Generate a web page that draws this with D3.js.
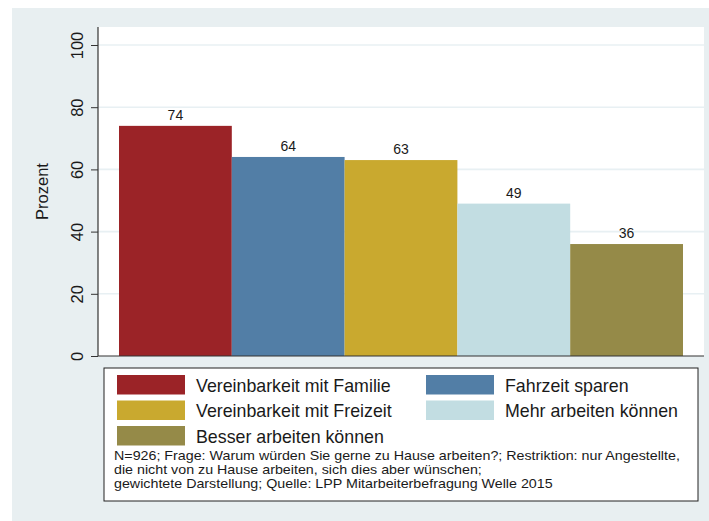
<!DOCTYPE html>
<html>
<head>
<meta charset="utf-8">
<script src="https://cdn.jsdelivr.net/npm/d3@7/dist/d3.min.js"></script>
<style>
  body { margin: 0; background: #fff; }
  svg { display: block; font-family: "Liberation Sans", Arial, sans-serif; }
</style>
</head>
<body>
<div id="chart"></div>
<script>
var categories = ["Vereinbarkeit mit Familie", "Fahrzeit sparen", "Vereinbarkeit mit Freizeit", "Mehr arbeiten können", "Besser arbeiten können"];
var values = [74, 64, 63, 49, 36];
var colors = ["#9b2327", "#527ea6", "#c9a92f", "#c2dde2", "#958a48"];
var yTicks = [0, 20, 40, 60, 80, 100];
var notes = [
  "N=926; Frage: Warum würden Sie gerne zu Hause arbeiten?; Restriktion: nur Angestellte,",
  "die nicht von zu Hause arbeiten, sich dies aber wünschen;",
  "gewichtete Darstellung; Quelle: LPP Mitarbeiterbefragung Welle 2015"
];

var width = 709, height = 521;
var svg = d3.select("#chart").append("svg")
  .attr("width", width)
  .attr("height", height);

// outer background
svg.append("rect")
  .attr("x", 12).attr("y", 8)
  .attr("width", width - 12).attr("height", height - 8)
  .attr("fill", "#e8eff1");

var plot = {left: 98, right: 704, top: 27, bottom: 356};

svg.append("rect")
  .attr("x", plot.left).attr("y", plot.top)
  .attr("width", plot.right - plot.left).attr("height", plot.bottom - plot.top)
  .attr("fill", "#fff");

var y = d3.scaleLinear().domain([0, 100]).range([plot.bottom, 45]);
var x = d3.scaleBand().domain(categories).range([119, 683]).padding(0);

// gridlines
svg.selectAll(".grid")
  .data(yTicks.filter(function(d) { return d > 0; }))
  .enter().append("line")
    .attr("x1", plot.left).attr("x2", plot.right)
    .attr("y1", function(d) { return y(d); })
    .attr("y2", function(d) { return y(d); })
    .attr("stroke", "#e8f0f3")
    .attr("stroke-width", 1.6);

// bars
svg.selectAll(".bar")
  .data(values)
  .enter().append("rect")
    .attr("class", "bar")
    .attr("x", function(d, i) { return x(categories[i]); })
    .attr("y", function(d) { return y(d); })
    .attr("width", x.bandwidth())
    .attr("height", function(d) { return y(0) - y(d); })
    .attr("fill", function(d, i) { return colors[i]; });

// value labels
svg.selectAll(".val")
  .data(values)
  .enter().append("text")
    .attr("x", function(d, i) { return x(categories[i]) + x.bandwidth() / 2; })
    .attr("y", function(d) { return y(d) - 6; })
    .attr("text-anchor", "middle")
    .attr("font-size", 14)
    .attr("fill", "#1a1a1a")
    .text(function(d) { return d; });

// y axis
var yAxis = svg.append("g")
  .attr("transform", "translate(" + plot.left + ",0)")
  .call(d3.axisLeft(y).tickValues(yTicks).tickSize(7).tickPadding(0));
yAxis.select(".domain").remove();
yAxis.selectAll(".tick line").attr("stroke", "#333");
yAxis.selectAll(".tick text").remove();
yAxis.selectAll(".tick").append("text")
  .attr("transform", "translate(-15,0) rotate(-90)")
  .attr("text-anchor", "middle")
  .attr("fill", "#1a1a1a")
  .attr("font-size", 16.5)
  .attr("font-family", "Liberation Sans, Arial, sans-serif")
  .text(function(d) { return d; });

svg.append("line")
  .attr("x1", plot.left).attr("x2", plot.left)
  .attr("y1", plot.top).attr("y2", plot.bottom)
  .attr("stroke", "#333").attr("stroke-width", 1.2);
svg.append("line")
  .attr("x1", plot.left).attr("x2", plot.right)
  .attr("y1", plot.bottom).attr("y2", plot.bottom)
  .attr("stroke", "#333").attr("stroke-width", 1.2);

svg.append("text")
  .attr("transform", "translate(48," + ((plot.top + plot.bottom) / 2) + ") rotate(-90)")
  .attr("text-anchor", "middle")
  .attr("font-size", 16.5)
  .attr("fill", "#1a1a1a")
  .text("Prozent");

// legend
var leg = svg.append("g");
leg.append("rect")
  .attr("x", 104).attr("y", 368)
  .attr("width", 594).attr("height", 133)
  .attr("fill", "#fff")
  .attr("stroke", "#222").attr("stroke-width", 1);

leg.selectAll(".sw")
  .data(categories)
  .enter().append("rect")
    .attr("x", function(d, i) { return i % 2 === 0 ? 117 : 426; })
    .attr("y", function(d, i) { return 375 + Math.floor(i / 2) * 25.5; })
    .attr("width", 68).attr("height", 19.5)
    .attr("fill", function(d, i) { return colors[i]; });

leg.selectAll(".lt")
  .data(categories)
  .enter().append("text")
    .attr("x", function(d, i) { return i % 2 === 0 ? 196 : 505; })
    .attr("y", function(d, i) { return 391.5 + Math.floor(i / 2) * 25.5; })
    .attr("font-size", 17.8)
    .attr("fill", "#1a1a1a")
    .text(function(d) { return d; });

// notes: slightly wide, tight lines like the original
var noteG = leg.append("g").attr("transform", "translate(114,0) scale(1.19,1)");
noteG.selectAll(".note")
  .data(notes)
  .enter().append("text")
    .attr("x", 0)
    .attr("y", function(d, i) { return 460 + i * 14; })
    .attr("font-size", 12)
    .attr("fill", "#1a1a1a")
    .text(function(d) { return d; });
</script>
</body>
</html>
